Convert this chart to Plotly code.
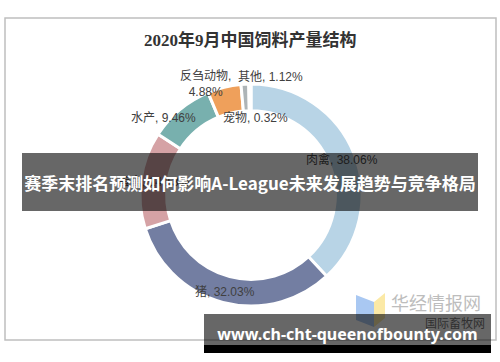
import math
import plotly.graph_objects as go

# ---- data ----
categories = ['肉禽', '猪', '蛋禽', '水产', '反刍动物', '其他', '宠物']
shares = [38.06, 32.03, 14.13, 9.46, 4.88, 1.12, 0.32]
title_text = '2020年9月中国饲料产量结构'
banner_text = '赛季末排名预测如何影响A-League未来发展趋势与竞争格局'
url_text = 'www.ch-cht-queenofbounty.com'
wm_main = '华经情报网'
wm_sub = '国际畜牧网'

# ---- style ----
colors = ['#B8D4E6', '#737EA2', '#D5A2A5', '#78B0AE', '#EFA05B', '#ADB4B7', '#DCE7EF']
# label nudges (px) relative to ring mid-line position
label_shift = [(0, 0), (-1, -3), (0, 0), (-25, 2), (-22, 16), (25, 20), (5, -20)]
label_break = [False, False, False, False, True, False, False]

W, H = 500, 362
CX, CY, R = 251, 195, 111
HOLE = 0.76


def P(x, y):
    return x / W, 1 - y / H


fig = go.Figure(go.Pie(
    labels=categories, values=shares, hole=HOLE, sort=False,
    direction='clockwise', rotation=0,
    marker=dict(colors=colors, line=dict(color='white', width=3)),
    textinfo='none', hoverinfo='label+percent', showlegend=False,
    domain=dict(x=[(CX - R) / W, (CX + R) / W],
                y=[(H - CY - R) / H, (H - CY + R) / H]),
))

annotations = []
total = sum(shares)
rmid = R * (1 + HOLE) / 2
cum = 0
lab_font = dict(family='Liberation Sans, Noto Sans CJK SC', size=12, color='#404040')
for c, v, (dx, dy), br in zip(categories, shares, label_shift, label_break):
    ang = math.radians((cum + v / 2) / total * 360)
    cum += v
    px = CX + rmid * math.sin(ang)
    py = CY - rmid * math.cos(ang)
    txt = f'{c},<br>{v:.2f}%' if br else f'{c}, {v:.2f}%'
    ax, ay = P(px, py)
    annotations.append(dict(x=ax, y=ay, xref='paper', yref='paper',
                            text=txt, showarrow=False, xshift=dx, yshift=dy,
                            font=lab_font, xanchor='center', yanchor='middle'))


def note(x, y, text, font, **kw):
    ax, ay = P(x, y)
    d = dict(x=ax, y=ay, xref='paper', yref='paper', text=text, showarrow=False,
             xanchor='center', yanchor='middle', font=font)
    d.update(kw)
    annotations.append(d)


# title
note(250, 40, f'<b>{title_text}</b>',
     dict(family='Liberation Serif, Noto Sans CJK SC', size=17, color='#333333'))

# watermark
note(436, 302, wm_main, dict(family='Noto Sans CJK SC', size=18, color='#BDBDBD'))
note(455, 322, wm_sub, dict(family='Noto Sans CJK SC', size=12, color='#707070'))

# overlay banner (middle)
note(250, 181.5, f'<b>{banner_text}</b>',
     dict(family='Noto Sans CJK SC', size=17, color='white'),
     width=456, height=58, borderpad=0, borderwidth=0,
     bgcolor='rgba(10,10,10,0.62)', valign='middle')

# bottom url banner
note(347.5, 329.5, f'<b>{url_text}</b>',
     dict(family='Noto Sans, DejaVu Sans', size=16, color='white'),
     width=287, height=31, borderpad=0, borderwidth=0,
     bgcolor='rgba(10,10,10,0.62)', valign='bottom')

shapes = [
    # chart frame
    dict(type='rect', xref='paper', yref='paper', x0=5 / W, x1=496 / W,
         y0=1 - 340 / H, y1=1 - 18 / H, line=dict(color='#BFBFBF', width=1.5), layer='below'),
    # watermark logo
    dict(type='path', xref='paper', yref='paper',
         path=f'M {356/W},{1-295/H} L {374/W},{1-302/H} L {374/W},{1-327/H} L {356/W},{1-320/H} Z',
         fillcolor='#A9C8F2', line=dict(width=0), layer='above'),
    dict(type='path', xref='paper', yref='paper',
         path=f'M {374/W},{1-302/H} L {385/W},{1-293/H} L {385/W},{1-318/H} L {374/W},{1-327/H} Z',
         fillcolor='#FBE9A6', line=dict(width=0), layer='above'),
    # black strip below url banner
    dict(type='rect', xref='paper', yref='paper', x0=204 / W, x1=491 / W,
         y0=1 - 353 / H, y1=1 - 345 / H, fillcolor='black', line=dict(width=0), layer='above'),
]

fig.update_layout(width=W, height=H, margin=dict(l=0, r=0, t=0, b=0),
                  paper_bgcolor='white', plot_bgcolor='white',
                  annotations=annotations, shapes=shapes)
fig.write_html('out.html', config={'displayModeBar': False},
               post_script="document.body.style.margin='0';document.body.style.overflow='hidden';")
